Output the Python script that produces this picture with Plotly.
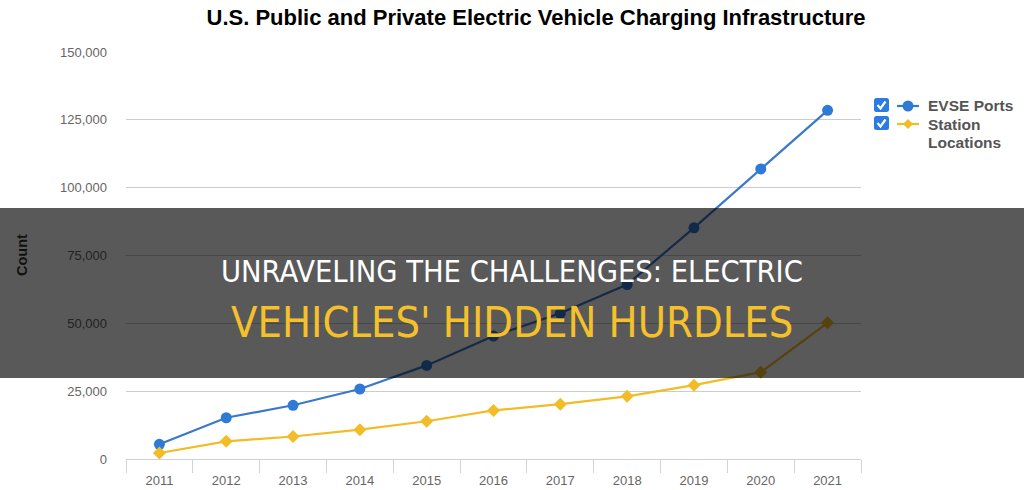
import plotly.graph_objects as go

years = ["2011", "2012", "2013", "2014", "2015", "2016", "2017", "2018", "2019", "2020", "2021"]
evse_ports = [5400, 15200, 19800, 25800, 34500, 45300, 53700, 64300, 85200, 106900, 128500]
station_locations = [2200, 6500, 8300, 10800, 13900, 17900, 20200, 23100, 27200, 32000, 50200]
y_ticks = [0, 25000, 50000, 75000, 100000, 125000, 150000]

BLUE_LINE, BLUE_MARK = "#3a78c8", "#2f7ad6"
GOLD = "#f2bc26"

W, H = 1024, 490
L, R, T, B = 126, 861, 52, 459  # plot area in pixels


def px(x):
    return (x - L) / (R - L)


def py(y):
    return (B - y) / (B - T)


fig = go.Figure()
fig.add_trace(go.Scatter(
    x=years, y=evse_ports, name="EVSE Ports", mode="lines+markers",
    line=dict(color=BLUE_LINE, width=2.2),
    marker=dict(symbol="circle", size=11, color=BLUE_MARK),
))
fig.add_trace(go.Scatter(
    x=years, y=station_locations, name="Station Locations", mode="lines+markers",
    line=dict(color=GOLD, width=2.2),
    marker=dict(symbol="diamond", size=10, color=GOLD),
))

shapes = []
# legend: checkboxes, line samples and marker glyphs
for y0, yc, col, sym in ((98, 106, BLUE_MARK, "circle"), (116, 124, GOLD, "diamond")):
    x0, x1, y1 = 874, 889, y0 + 14
    r = 2.5
    path = (f"M{px(x0 + r)},{py(y0)} L{px(x1 - r)},{py(y0)} Q{px(x1)},{py(y0)} {px(x1)},{py(y0 + r)} "
            f"L{px(x1)},{py(y1 - r)} Q{px(x1)},{py(y1)} {px(x1 - r)},{py(y1)} "
            f"L{px(x0 + r)},{py(y1)} Q{px(x0)},{py(y1)} {px(x0)},{py(y1 - r)} "
            f"L{px(x0)},{py(y0 + r)} Q{px(x0)},{py(y0)} {px(x0 + r)},{py(y0)} Z")
    shapes.append(dict(type="path", xref="paper", yref="paper", path=path,
                       fillcolor="#2b7be0", line=dict(width=0), layer="above"))
    chk = f"M{px(877.5)},{py(y0 + 7)} L{px(880.5)},{py(y0 + 10.5)} L{px(885.5)},{py(y0 + 3.5)}"
    shapes.append(dict(type="path", xref="paper", yref="paper", path=chk,
                       line=dict(color="white", width=2.2), layer="above"))
    shapes.append(dict(type="line", xref="paper", yref="paper",
                       x0=px(897), x1=px(919), y0=py(yc), y1=py(yc),
                       line=dict(color=col, width=2.2), layer="above"))
    if sym == "circle":
        shapes.append(dict(type="circle", xref="paper", yref="paper",
                           x0=px(902.5), x1=px(913.5), y0=py(yc + 5.5), y1=py(yc - 5.5),
                           fillcolor=col, line=dict(width=0), layer="above"))
    else:
        d = (f"M{px(908)},{py(yc - 5)} L{px(913)},{py(yc)} L{px(908)},{py(yc + 5)} "
             f"L{px(903)},{py(yc)} Z")
        shapes.append(dict(type="path", xref="paper", yref="paper", path=d,
                           fillcolor=col, line=dict(width=0), layer="above"))

# dark overlay band
shapes.append(dict(type="rect", xref="paper", yref="paper",
                   x0=px(0), x1=px(W), y0=py(378), y1=py(208),
                   fillcolor="rgba(0,0,0,0.65)", line=dict(width=0), layer="above"))

legend_font = dict(family="Arial, Liberation Sans", size=15.5, color="#555", weight="bold")
band_family = "Liberation Sans Narrow, DejaVu Sans Condensed, sans-serif"
annotations = [
    dict(text="<b>Count</b>", xref="paper", yref="paper", x=px(22), y=py(255),
         xanchor="center", yanchor="middle", textangle=-90, showarrow=False,
         font=dict(family="Arial, Liberation Sans", size=14.5, color="#111")),
    dict(text="EVSE Ports", xref="paper", yref="paper", x=px(926), y=py(105.5),
         xanchor="left", yanchor="middle", showarrow=False, font=legend_font),
    dict(text="Station", xref="paper", yref="paper", x=px(926), y=py(124),
         xanchor="left", yanchor="middle", showarrow=False, font=legend_font),
    dict(text="Locations", xref="paper", yref="paper", x=px(926), y=py(142),
         xanchor="left", yanchor="middle", showarrow=False, font=legend_font),
    dict(text="UNRAVELING THE CHALLENGES: ELECTRIC", xref="paper", yref="paper",
         x=px(512), y=py(271.5), xanchor="center", yanchor="middle", showarrow=False,
         font=dict(family=band_family, size=30.5, color="white")),
    dict(text="VEHICLES' HIDDEN HURDLES", xref="paper", yref="paper",
         x=px(512), y=py(321.5), xanchor="center", yanchor="middle", showarrow=False,
         font=dict(family=band_family, size=43, color="#f5c12b")),
]

fig.update_layout(
    width=W, height=H,
    margin=dict(l=L, r=W - R, t=T, b=H - B, pad=0, autoexpand=False),
    paper_bgcolor="white", plot_bgcolor="white",
    showlegend=False,
    title=dict(text="<b>U.S. Public and Private Electric Vehicle Charging Infrastructure</b>",
               x=536 / W, xanchor="center", y=1 - 17 / H, yanchor="middle",
               font=dict(family="Arial, Liberation Sans", size=22, color="#000")),
    font=dict(family="Arial, Liberation Sans", size=13, color="#666"),
    xaxis=dict(type="category", range=[-0.5, 10.5], tickson="boundaries", ticks="outside",
               ticklen=13, tickcolor="#d0d4d8", showline=True, linecolor="#ccd2d8", linewidth=1,
               showgrid=False, zeroline=False, ticklabelstandoff=9, automargin=False,
               tickfont=dict(size=13, color="#666")),
    yaxis=dict(range=[0, 150000], tickvals=y_ticks, tickformat=",", showgrid=True,
               gridcolor="#cccccc", gridwidth=1, zeroline=False, showline=False,
               ticks="", ticklabelstandoff=18, automargin=False,
               tickfont=dict(size=13, color="#666")),
    shapes=shapes,
    annotations=annotations,
)

fig.write_html("out.html", config={"displayModeBar": False},
               post_script="document.body.style.margin='0';")
